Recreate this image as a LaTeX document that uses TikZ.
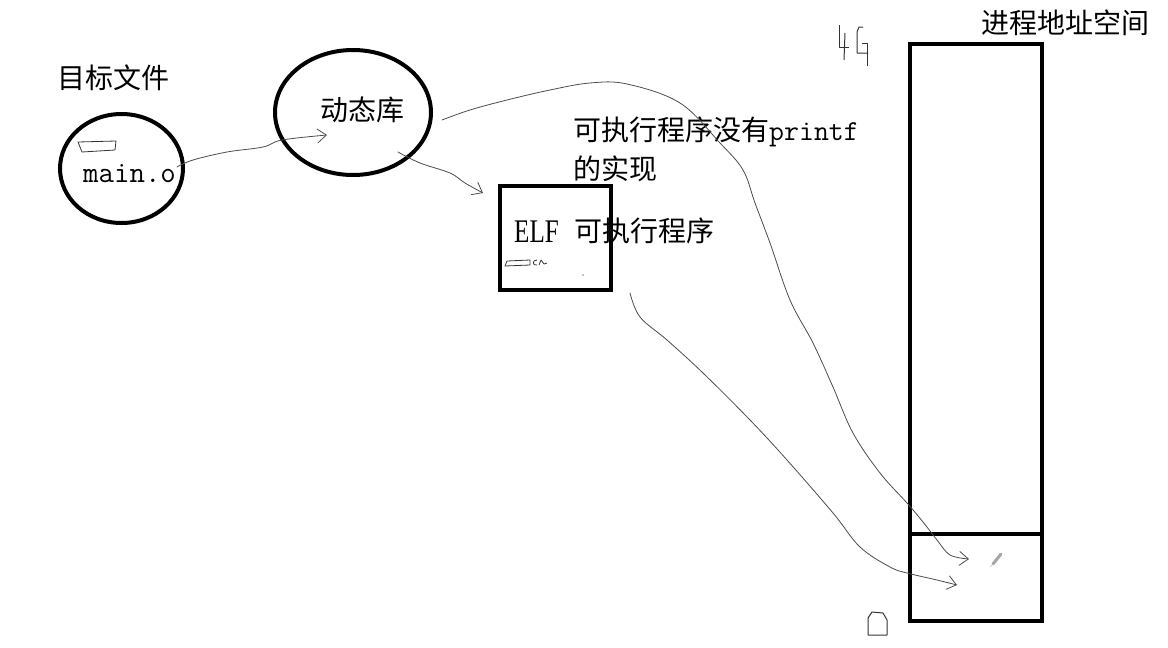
\documentclass[tikz,border=0pt]{standalone}
\usepackage{fontspec}
\usepackage{graphicx}
\newfontfamily\cjk{Noto Sans CJK SC}
\newfontfamily\serifelf{Liberation Serif}
\usetikzlibrary{shapes.geometric,arrows.meta}
\tikzset{
  thickline/.style={line width=4pt, black},
  ell/.style={ellipse, draw, thickline, inner sep=0pt},
  boxnode/.style={rectangle, draw, thickline, inner sep=0pt},
  hand/.style={line width=0.8pt, black!70, line cap=round, line join=round},
  handarrow/.style={hand, -{Straight Barb[length=9pt,width=14pt,line width=0.8pt]}},
  scrib/.style={line width=0.8pt, black!80, line join=round},
  cjktext/.style={inner sep=0pt, anchor=base west, font=\cjk\fontsize{28}{32}\selectfont},
  mono/.style={inner sep=0pt, anchor=base west, font=\ttfamily\fontsize{30}{34}\selectfont},
}
\begin{document}
\begin{tikzpicture}[x=1pt, y=-1pt]
\useasboundingbox (0,0) rectangle (1168,648);

% shapes
\node[ell, minimum width=123pt, minimum height=109pt] (obj) at (121.5,168.5) {};
\node[ell, minimum width=156pt, minimum height=125pt] (dyn) at (353,112.5) {};
\node[boxnode, minimum width=111pt, minimum height=104pt] (elf) at (555.5,238) {};
\node[boxnode, minimum width=132pt, minimum height=577pt] (as) at (976,332.5) {};
\node[boxnode, minimum width=132pt, minimum height=87pt] (low) at (976,577.5) {};

% texts
\node[cjktext] (tobj) at (57,88) {目标文件};
\node[mono] (tmain) at (83,182) {main.o};
\node[cjktext] (tdyn) at (320,120) {动态库};
\node[cjktext] (tnote1) at (573,140) {可执行程序没有{\ttfamily\fontsize{29}{34}\selectfont printf}};
\node[cjktext] (tnote2) at (573,179) {的实现};
\node[inner sep=0pt, anchor=base west, font=\serifelf\fontsize{33}{36}\selectfont] (telf) at (514,242) {\scalebox{0.76}[1]{ELF}};
\node[cjktext] (texe) at (574,241) {可执行程序};
\node[cjktext] (tas) at (981,33) {进程地址空间};

% scribbles
\draw[scrib] (78,142) -- (116,141) -- (115,150) -- (82,152) -- cycle;
\draw[scrib] (530,260) -- (507,261) -- (505,266) -- (530,265) -- cycle;
\draw[scrib] (537,260) .. controls (532,260) and (532,266) .. (537,265);
\draw[scrib] (539,265) -- (541,260) -- (544,264) -- (547,263);
\fill (583,275) circle (0.7pt);

% handwritten 4G
\draw[scrib, line width=1pt] (839,25) -- (839,47) -- (849,47);
\draw[scrib, line width=1pt] (845,33) -- (844,60);
\draw[scrib, line width=1pt] (863,27) -- (859,27) -- (857,32) -- (857,53) -- (868,53);
\draw[scrib, line width=1pt] (862,43) -- (867,43) -- (867,66);

% handwritten 0
\draw[scrib, line width=1pt] (868,618) -- (872,612) -- (883,613) -- (887,620) -- (887,635) -- (868,635) -- cycle;

% pencil cursor
\draw[gray!70, line width=3pt, line cap=round] (993,564) -- (1001,554);
\draw[gray!50, line width=0.6pt] (990,567) -- (993,564);

% connectors
\coordinate (o1) at (177,167);
\coordinate (d1) at (327,135);
\draw[handarrow] plot[smooth, tension=0.6] coordinates {(o1) (193,160) (227,152) (263,147) (282,140) (d1)};

\coordinate (d2) at (398,152);
\coordinate (e1) at (483,193);
\draw[handarrow] plot[smooth, tension=0.6] coordinates {(d2) (420,163) (450,173) (465,183) (e1)};

\coordinate (d3) at (442,120);
\coordinate (l1) at (969,559);
\draw[handarrow] plot[smooth, tension=0.6] coordinates {(d3) (470,110) (507,100) (550,90) (590,83) (627,84) (680,103) (720,143) (743,170) (755,203) (770,243) (790,300) (813,343) (833,387) (853,433) (880,473) (907,503) (923,522) (937,540) (950,555) (l1)};

\coordinate (e2) at (630,293);
\coordinate (l2) at (957,585);
\draw[handarrow] plot[smooth, tension=0.6] coordinates {(e2) (640,317) (667,340) (703,373) (750,420) (787,460) (833,513) (860,547) (890,567) (907,573) (937,580) (l2)};
\end{tikzpicture}
\end{document}
